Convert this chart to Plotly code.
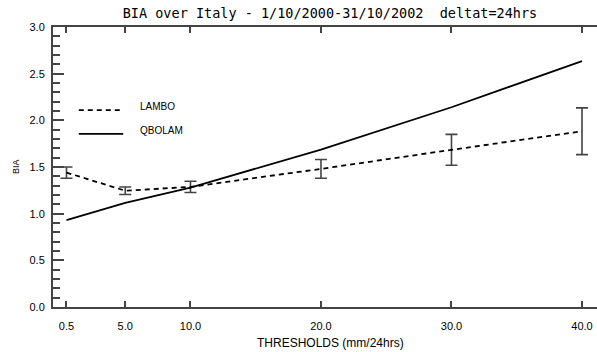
import plotly.graph_objects as go

thresholds = [0.5, 5.0, 10.0, 20.0, 30.0, 40.0]
tick_labels = ["0.5", "5.0", "10.0", "20.0", "30.0", "40.0"]
qbolam = [0.93, 1.115, 1.28, 1.685, 2.14, 2.635]
lambo = [1.44, 1.246, 1.287, 1.48, 1.684, 1.883]
lambo_err = [0.06, 0.04, 0.06, 0.10, 0.166, 0.25]
y_ticks = [0.0, 0.5, 1.0, 1.5, 2.0, 2.5, 3.0]
y_labels = ["0.0", "0.5", "1.0", "1.5", "2.0", "2.5", "3.0"]

FONT = "Liberation Sans"
AX = "#444444"

fig = go.Figure()
fig.add_trace(go.Scatter(
    x=thresholds, y=lambo, mode="lines", name="LAMBO",
    line=dict(color="black", width=1.8, dash="5px,4px"),
    error_y=dict(type="data", array=lambo_err, visible=True,
                 color=AX, thickness=1.6, width=6),
    showlegend=False,
))
fig.add_trace(go.Scatter(
    x=thresholds, y=qbolam, mode="lines", name="QBOLAM",
    line=dict(color="black", width=1.8),
    showlegend=False,
))

# hand-drawn legend (paper coords)
fig.add_shape(type="line", xref="paper", yref="paper",
              x0=0.0474, x1=0.1290, y0=0.703, y1=0.703,
              line=dict(color="black", width=1.8, dash="5px,4px"))
fig.add_shape(type="line", xref="paper", yref="paper",
              x0=0.0474, x1=0.1290, y0=0.618, y1=0.618,
              line=dict(color="black", width=1.8))
fig.add_annotation(text="LAMBO", xref="paper", yref="paper", x=0.1568, y=0.716,
                   xanchor="left", yanchor="middle", showarrow=False,
                   font=dict(family=FONT, size=10, color="black"))
fig.add_annotation(text="QBOLAM", xref="paper", yref="paper", x=0.1568, y=0.632,
                   xanchor="left", yanchor="middle", showarrow=False,
                   font=dict(family=FONT, size=10, color="black"))

# axis titles
fig.add_annotation(text="THRESHOLDS (mm/24hrs)", xref="paper", yref="paper",
                   x=(330 - 53) / 544, y=-(343 - 307) / 280,
                   xanchor="center", yanchor="middle", showarrow=False,
                   font=dict(family=FONT, size=12, color="black"))
fig.add_annotation(text="BIA", xref="paper", yref="paper",
                   x=(16 - 53) / 544, y=(307 - 167) / 280, textangle=-90,
                   xanchor="center", yanchor="middle", showarrow=False,
                   font=dict(family=FONT, size=9, color="black"))

title = "BIA over Italy - 1/10/2000-31/10/2002\u00a0\u00a0deltat=24hrs"
fig.update_layout(
    width=597, height=352,
    margin=dict(l=53, r=0, t=27, b=45),
    paper_bgcolor="white", plot_bgcolor="white",
    title=dict(text=title, x=330 / 597, xref="container", xanchor="center",
               y=1 - 13 / 352, yref="container", yanchor="middle",
               font=dict(family="DejaVu Sans Mono", size=13.5, color="black")),
    xaxis=dict(range=[-0.534, 41.15], tickvals=thresholds, ticktext=tick_labels,
               ticks="inside", ticklen=6, tickwidth=1.5, tickcolor=AX,
               showline=True, linecolor=AX, linewidth=2, mirror="ticks",
               showgrid=False, zeroline=False, ticklabelstandoff=8,
               tickfont=dict(family=FONT, size=11, color="black")),
    yaxis=dict(range=[0, 3], tickvals=y_ticks, ticktext=y_labels,
               ticks="inside", ticklen=11, tickwidth=1.5, tickcolor=AX,
               minor=dict(dtick=0.1, ticks="inside", ticklen=7, tickwidth=1.5, tickcolor=AX),
               showline=True, linecolor=AX, linewidth=2, mirror=False,
               showgrid=False, zeroline=False, ticklabelstandoff=4,
               tickfont=dict(family=FONT, size=11, color="black")),
)

fig.write_html("out.html")
